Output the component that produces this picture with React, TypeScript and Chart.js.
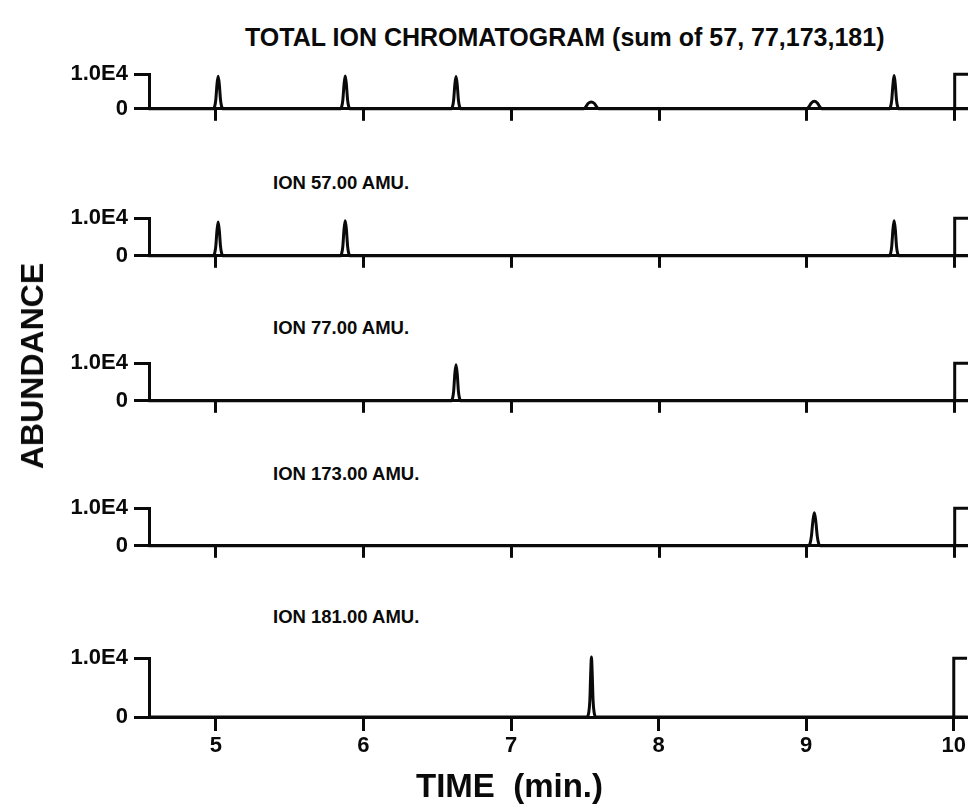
import React, { useEffect, useRef } from 'react';
import { Chart, registerables } from 'chart.js';

Chart.register(...registerables);

const FONT = "'Liberation Sans', Arial, Helvetica, sans-serif";
const INK = '#0a0a0a';

// ---------- data ----------
const xTicks = [5, 6, 7, 8, 9, 10];
const xMin = 4.547;
const xMax = 10.09;
const yTicks = [0, 10000];
const yTickLabels = ['0', '1.0E4'];
const yMax = 10000;

const mainTitle = 'TOTAL ION CHROMATOGRAM (sum of 57, 77,173,181)';
const panelTitles = ['', 'ION 57.00 AMU.', 'ION 77.00 AMU.', 'ION 173.00 AMU.', 'ION 181.00 AMU.'];
const xAxisTitle = 'TIME (min.)';
const yAxisTitle = 'ABUNDANCE';

// [time (min), abundance]
const ticTrace: number[][] = [
  [4.547, 0],
  [4.98, 0], [4.992, 800], [4.999, 2600], [5.007, 7000], [5.015, 9400], [5.023, 7000], [5.031, 2600], [5.038, 800], [5.05, 0],
  [5.84, 0], [5.852, 800], [5.859, 2600], [5.867, 7000], [5.875, 9500], [5.883, 7000], [5.891, 2600], [5.898, 800], [5.91, 0],
  [6.59, 0], [6.602, 800], [6.609, 2600], [6.617, 7000], [6.625, 9300], [6.633, 7000], [6.641, 2600], [6.648, 800], [6.66, 0],
  [7.49, 0], [7.505, 700], [7.52, 1600], [7.54, 2000], [7.56, 1600], [7.575, 700], [7.59, 0],
  [9.0, 0], [9.015, 700], [9.03, 1700], [9.05, 2200], [9.07, 1700], [9.085, 700], [9.1, 0],
  [9.555, 0], [9.567, 800], [9.574, 2600], [9.582, 7000], [9.59, 9600], [9.598, 7000], [9.606, 2600], [9.613, 800], [9.625, 0],
  [10.09, 0],
];

const ion57Trace: number[][] = [
  [4.547, 0],
  [4.98, 0], [4.992, 800], [4.999, 2500], [5.007, 6700], [5.015, 9000], [5.023, 6700], [5.031, 2500], [5.038, 800], [5.05, 0],
  [5.84, 0], [5.852, 800], [5.859, 2600], [5.867, 7000], [5.875, 9300], [5.883, 7000], [5.891, 2600], [5.898, 800], [5.91, 0],
  [9.555, 0], [9.567, 800], [9.574, 2600], [9.582, 7000], [9.59, 9300], [9.598, 7000], [9.606, 2600], [9.613, 800], [9.625, 0],
  [10.09, 0],
];

const ion77Trace: number[][] = [
  [4.547, 0],
  [6.59, 0], [6.602, 800], [6.609, 2600], [6.617, 7200], [6.625, 9600], [6.633, 7200], [6.641, 2600], [6.648, 800], [6.66, 0],
  [10.09, 0],
];

const ion173Trace: number[][] = [
  [4.547, 0],
  [9.01, 0], [9.022, 800], [9.03, 2500], [9.04, 6500], [9.05, 8800], [9.06, 6500], [9.07, 2500], [9.078, 800], [9.09, 0],
  [10.09, 0],
];

const ion181Trace: number[][] = [
  [4.547, 0],
  [7.515, 0], [7.527, 800], [7.534, 2800], [7.54, 7500], [7.545, 10200], [7.55, 7500], [7.556, 2800], [7.563, 800], [7.575, 0],
  [10.09, 0],
];

// full-scale marker drawn at 10 min on each panel
const fullScaleMarker: number[][] = [[10, 0], [10, 10000], [10.09, 10000]];

const traces = [ticTrace, ion57Trace, ion77Trace, ion173Trace, ion181Trace];

// ---------- layout (pixels) ----------
const panelLayout = [
  { top: 69, bottom: 112 },
  { top: 213, bottom: 259 },
  { top: 358, bottom: 404 },
  { top: 503, bottom: 549 },
  { top: 653, bottom: 717 },
];
const titleCenters = [0, 183, 328, 474, 617];
const PAD_TOP = 14;
const AXIS_LEFT = 149;

function Panel({ index }: { index: number }) {
  const ref = useRef<HTMLCanvasElement>(null);
  const isLast = index === panelLayout.length - 1;
  const { top, bottom } = panelLayout[index];
  const axisH = isLast ? 806 - bottom : 16;
  const canvasTop = top - PAD_TOP;
  const height = PAD_TOP + (bottom - top) + axisH;

  useEffect(() => {
    const canvas = ref.current!;
    const chart = new Chart(canvas, {
      type: 'line',
      data: {
        datasets: [
          {
            data: traces[index].map(([x, y]) => ({ x, y })),
            borderColor: INK,
            borderWidth: 3,
            pointRadius: 0,
            fill: false,
            cubicInterpolationMode: 'monotone',
            clip: false as any,
            borderJoinStyle: 'round',
            borderCapStyle: 'round',
          },
          {
            data: fullScaleMarker.map(([x, y]) => ({ x, y })),
            borderColor: INK,
            borderWidth: 3,
            pointRadius: 0,
            fill: false,
            tension: 0,
            clip: false as any,
          },
        ],
      },
      options: {
        responsive: false,
        animation: false,
        devicePixelRatio: 1,
        layout: { padding: { top: PAD_TOP, left: 0, right: 0, bottom: 0 } },
        plugins: { legend: { display: false }, tooltip: { enabled: false }, title: { display: false } },
        scales: {
          x: {
            type: 'linear',
            min: xMin,
            max: xMax,
            afterBuildTicks: (s: any) => {
              s.ticks = xTicks.map((v) => ({ value: v }));
            },
            afterFit: (s: any) => {
              s.height = axisH;
            },
            grid: {
              drawOnChartArea: false,
              drawTicks: true,
              tickLength: isLast ? 14 : 12,
              lineWidth: 3,
              color: INK,
            },
            border: { display: true, width: 3, color: INK },
            ticks: {
              display: isLast,
              autoSkip: false,
              maxRotation: 0,
              padding: 2,
              color: INK,
              font: { family: FONT, size: 22, weight: 'bold' },
              callback: (v: any) => String(v),
            },
          },
          y: {
            type: 'linear',
            min: 0,
            max: yMax,
            afterBuildTicks: (s: any) => {
              s.ticks = yTicks.map((v) => ({ value: v }));
            },
            afterFit: (s: any) => {
              s.width = AXIS_LEFT;
            },
            grid: {
              drawOnChartArea: false,
              drawTicks: true,
              tickLength: 15,
              lineWidth: 3,
              color: INK,
            },
            border: { display: true, width: 3, color: INK },
            ticks: {
              padding: 6,
              color: INK,
              font: { family: FONT, size: 22, weight: 'bold' },
              callback: (v: any) => yTickLabels[yTicks.indexOf(Number(v))] ?? '',
            },
          },
        },
      },
    } as any);
    return () => chart.destroy();
  }, [index]);

  return (
    <canvas
      ref={ref}
      width={968}
      height={height}
      style={{ position: 'absolute', left: 0, top: canvasTop, width: 968, height }}
    />
  );
}

const textBase: React.CSSProperties = {
  position: 'absolute',
  fontFamily: FONT,
  fontWeight: 'bold',
  color: INK,
  lineHeight: 1,
  whiteSpace: 'pre',
};

export default function App() {
  return (
    <div style={{ position: 'absolute', left: 0, top: 0, width: 968, height: 806, background: '#fff', overflow: 'hidden' }}>
      {panelLayout.map((_, i) => (
        <Panel key={i} index={i} />
      ))}
      <div style={{ ...textBase, left: 245, top: 37 - 12.3, fontSize: 25 }}>{mainTitle}</div>
      {panelTitles.map((t, i) =>
        t ? (
          <div key={t} style={{ ...textBase, left: 273, top: titleCenters[i] - 9.1, fontSize: 18.5 }}>
            {t}
          </div>
        ) : null
      )}
      <div style={{ ...textBase, left: 416, top: 785 - 16.2, fontSize: 33 }}>{xAxisTitle.replace(' ', '  ')}</div>
      <div
        style={{
          ...textBase,
          left: 32,
          top: 366,
          fontSize: 32,
          transform: 'translate(-50%, -50%) rotate(-90deg)',
        }}
      >
        {yAxisTitle}
      </div>
    </div>
  );
}
